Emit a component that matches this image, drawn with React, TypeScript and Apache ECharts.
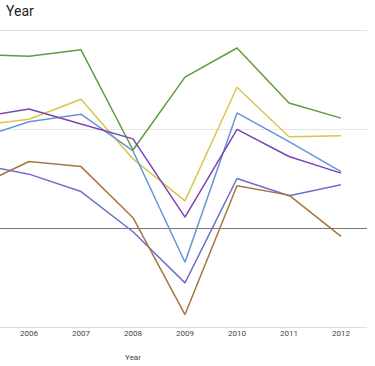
import React, { useEffect, useRef } from "react";
import * as echarts from "echarts";

const years = ["2004", "2005", "2006", "2007", "2008", "2009", "2010", "2011", "2012"];
const yTicks = [-5, 0, 5, 10];

const greenSeries = [null, 8.76, 8.68, 9.0, 3.94, 7.62, 9.09, 6.31, 5.55];
const yellowSeries = [null, 5.17, 5.49, 6.5, 3.49, 1.37, 7.11, 4.61, 4.66];
const blueSeries = [null, 4.5, 5.37, 5.75, 3.89, -1.73, 5.81, 4.36, 2.85];
const purpleSeries = [null, 5.57, 6.01, 5.25, 4.5, 0.55, 4.98, 3.61, 2.77];
const slateSeries = [null, 3.24, 2.72, 1.84, -0.19, -2.77, 2.5, 1.63, 2.18];
const brownSeries = [null, 2.1, 3.36, 3.1, 0.52, -4.37, 2.13, 1.66, -0.42];

const seriesDefs = [
  { name: "Series 1", data: greenSeries, color: "#5f9c3f" },
  { name: "Series 2", data: yellowSeries, color: "#dcc34c" },
  { name: "Series 3", data: blueSeries, color: "#6494d6" },
  { name: "Series 4", data: purpleSeries, color: "#7a45b5" },
  { name: "Series 5", data: slateSeries, color: "#6e6ed0" },
  { name: "Series 6", data: brownSeries, color: "#a57640" },
];

export default function App() {
  const ref = useRef<HTMLDivElement>(null);
  useEffect(() => {
    if (!ref.current) return;
    const chart = echarts.init(ref.current, null, { renderer: "svg" });
    chart.setOption({
      animation: false,
      backgroundColor: "#ffffff",
      title: {
        text: "Year",
        left: 121,
        top: -1,
        textStyle: { fontFamily: "Roboto, Arial, sans-serif", fontSize: 14, fontWeight: "normal", color: "#222" },
      },
      grid: { left: 19, right: 8, top: 30, bottom: 37.5, containLabel: false },
      xAxis: {
        type: "category",
        data: years,
        boundaryGap: true,
        name: "Year",
        nameLocation: "middle",
        nameGap: 26,
        nameTextStyle: { fontFamily: "Roboto, Arial, sans-serif", fontSize: 8, color: "#444" },
        axisLine: { show: false, onZero: false },
        axisTick: { show: false },
        axisLabel: {
          margin: 2,
          interval: (index: number) => index >= 2,
          fontFamily: "Roboto, Arial, sans-serif",
          fontSize: 8,
          color: "#444",
        },
        splitLine: { show: false },
      },
      yAxis: {
        type: "value",
        min: yTicks[0],
        max: yTicks[yTicks.length - 1],
        interval: 5,
        axisLine: { show: false },
        axisTick: { show: false },
        axisLabel: { show: false },
        splitLine: { lineStyle: { color: ["#dddddd", "#777777", "#e6e6e6", "#e0e0e0"], width: 1 } },
      },
      series: seriesDefs.map((s) => ({
        name: s.name,
        type: "line",
        data: s.data,
        symbol: "none",
        connectNulls: false,
        lineStyle: { color: s.color, width: 1.5 },
        itemStyle: { color: s.color },
      })),
    });
    return () => chart.dispose();
  }, []);
  return (
    <div style={{ position: "fixed", left: 0, top: 0, width: 375, height: 366, overflow: "hidden", background: "#fff" }}>
      <div ref={ref} style={{ position: "absolute", left: -120, top: 0, width: 495, height: 366 }} />
    </div>
  );
}
